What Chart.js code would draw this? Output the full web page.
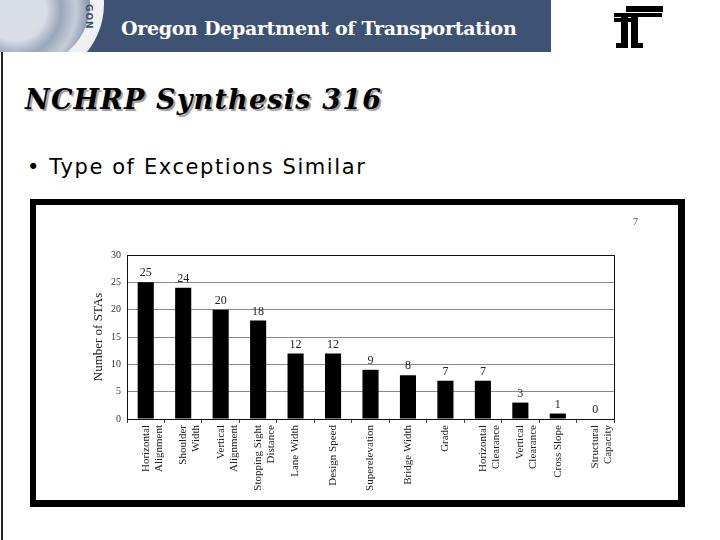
<!DOCTYPE html>
<html>
<head>
<meta charset="utf-8">
<script src="https://cdn.jsdelivr.net/npm/chart.js@4"></script>
<style>
  html, body { margin:0; padding:0; background:#fff; }
  body { width:720px; height:540px; position:relative; overflow:hidden; font-family:"DejaVu Sans", sans-serif; }
  #band { position:absolute; left:0; top:0; width:551px; height:52px; background:#3e5274; overflow:hidden; }
  #seal { position:absolute; left:-48px; top:-72px; width:152px; height:152px; border-radius:50%; background:#eef0f4; }
  #seal2 { position:absolute; left:-34px; top:-58px; width:124px; height:124px; border-radius:50%;
           background: radial-gradient(circle at 40% 55%, #d8dde6 0 30%, #9aa6ba 45%, #c6cdd9 60%, #7e8ca5 75%, #dfe3ea 100%); }
  #sealtxt { position:absolute; left:84px; top:4px; color:#3e5274; font:bold 9px "DejaVu Sans"; writing-mode:vertical-rl; letter-spacing:1px; }
  #org { position:absolute; left:121px; top:17px; color:#fff; font:bold 19px "DejaVu Serif", serif; letter-spacing:-0.3px; white-space:nowrap; }
  #vline { position:absolute; left:1px; top:52px; width:2px; height:488px; background:#222; }
  #title { position:absolute; left:25px; top:84px; font:italic bold 27px "DejaVu Serif", serif; color:#000;
           text-shadow: 2px 2px 1px #999; white-space:nowrap; letter-spacing:1.2px; }
  #bullet { position:absolute; left:27px; top:155px; font:21px "DejaVu Sans", sans-serif; color:#000; white-space:nowrap; letter-spacing:1.6px; }
  #frame { position:absolute; left:30px; top:199px; width:642px; height:295px; border:6px solid #000; border-right-width:7px; border-bottom-width:7px; background:#fff; }
  #pg { position:absolute; left:597px; top:11px; font:10px "Liberation Serif", serif; color:#555; }
  #cwrap { position:absolute; left:0; top:0; width:642px; height:295px; }
  .lg { position:absolute; background:#000; }
</style>
</head>
<body>
<div id="band">
  <div id="seal"></div>
  <div id="seal2"></div>
  <div id="sealtxt">GON</div>
  <div id="org">Oregon Department of Transportation</div>
</div>
<!-- ODOT logo -->
<div class="lg" style="left:626px;top:6px;width:37px;height:6px;"></div>
<div class="lg" style="left:614px;top:13px;width:48px;height:4px;"></div>
<div class="lg" style="left:614px;top:18px;width:24px;height:4px;"></div>
<div class="lg" style="left:621px;top:14px;width:7px;height:33px;"></div>
<div class="lg" style="left:631px;top:14px;width:7px;height:33px;"></div>
<div class="lg" style="left:616px;top:43px;width:12px;height:5px;"></div>
<div class="lg" style="left:631px;top:43px;width:12px;height:5px;"></div>
<div id="vline"></div>
<div id="title">NCHRP Synthesis 316</div>
<div id="bullet">•&nbsp;Type of Exceptions Similar</div>
<div id="frame">
  <div id="cwrap"><canvas id="c"></canvas></div>
  <div id="pg">7</div>
</div>
<script>
const categories = [
  ["Horizontal","Alignment"], ["Shoulder","Width"], ["Vertical","Alignment"],
  ["Stopping Sight","Distance"], "Lane Width", "Design Speed", "Superelevation",
  "Bridge Width", "Grade", ["Horizontal","Clearance"], ["Vertical","Clearance"],
  "Cross Slope", ["Structural","Capacity"]
];
const stasCount = [25, 24, 20, 18, 12, 12, 9, 8, 7, 7, 3, 1, 0];
const yTicks = [0, 5, 10, 15, 20, 25, 30];

const valueLabels = {
  id: 'valueLabels',
  afterDatasetsDraw(chart) {
    const ctx = chart.ctx;
    const meta = chart.getDatasetMeta(0);
    ctx.save();
    ctx.font = '12px "Liberation Serif", serif';
    ctx.fillStyle = '#222';
    ctx.textAlign = 'center';
    ctx.textBaseline = 'bottom';
    meta.data.forEach((el, i) => {
      ctx.fillText(String(stasCount[i]), el.x, el.y - 3);
    });
    ctx.restore();
  }
};
const rightBorder = {
  id: 'rightBorder',
  afterDraw(chart) {
    const a = chart.chartArea, ctx = chart.ctx;
    ctx.save();
    ctx.strokeStyle = '#111';
    ctx.lineWidth = 1;
    ctx.beginPath();
    ctx.moveTo(a.right + 0.5, a.top);
    ctx.lineTo(a.right + 0.5, a.bottom);
    ctx.stroke();
    ctx.restore();
  }
};

new Chart(document.getElementById('c'), {
  type: 'bar',
  data: {
    labels: categories,
    datasets: [{
      data: stasCount,
      backgroundColor: '#000',
      borderWidth: 0,
      categoryPercentage: 1,
      barPercentage: 0.43
    }]
  },
  options: {
    responsive: true,
    maintainAspectRatio: false,
    animation: false,
    events: [],
    layout: { padding: { left: 55, top: 50, right: 64, bottom: 0 } },
    plugins: { legend: { display: false }, tooltip: { enabled: false }, title: { display: false } },
    scales: {
      x: {
        grid: { drawOnChartArea: false, drawTicks: true, tickLength: 4, color: '#444', offset: true },
        border: { color: '#111', width: 1 },
        ticks: {
          minRotation: 90, maxRotation: 90, autoSkip: false, padding: 2,
          color: '#222', font: { family: '"Liberation Serif", serif', size: 11, lineHeight: 1.2 }
        },
        afterFit(s) { s.height = 81; }
      },
      y: {
        min: 0, max: 30,
        afterBuildTicks(s) { s.ticks = yTicks.map(v => ({ value: v })); },
        grid: {
          color: ctx => (ctx.tick && ctx.tick.value === 30) ? '#111' : '#8a8a8a',
          drawTicks: false, lineWidth: 1
        },
        border: { color: '#111', width: 1 },
        ticks: { padding: 6, color: '#333', font: { family: '"Liberation Serif", serif', size: 10 } },
        title: { display: true, text: 'Number of STAs', color: '#222', padding: { top: 0, bottom: 0 },
                 font: { family: '"Liberation Serif", serif', size: 13 } },
        afterFit(s) { s.width = 36; }
      }
    }
  },
  plugins: [valueLabels, rightBorder]
});
</script>
</body>
</html>
